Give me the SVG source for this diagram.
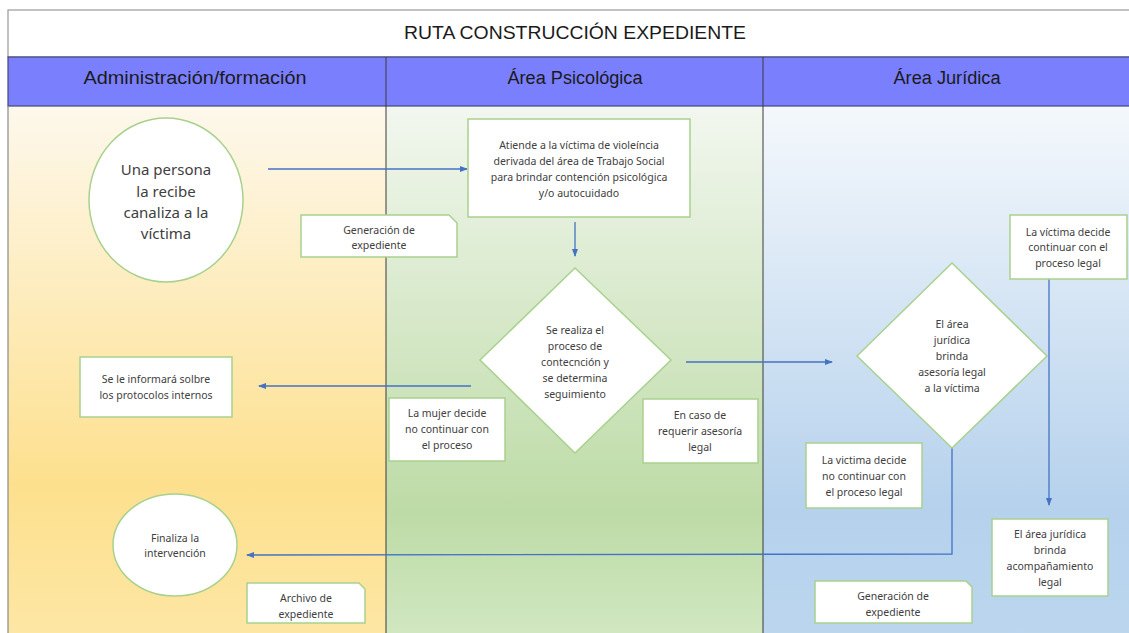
<svg xmlns="http://www.w3.org/2000/svg" width="1129" height="633" viewBox="0 0 1129 633">
<defs>
<linearGradient id="gA" x1="0" y1="0" x2="0" y2="1">
<stop offset="0" stop-color="#fdf8ec"/><stop offset="0.7" stop-color="#fde08e"/><stop offset="1" stop-color="#fde7a6"/>
</linearGradient>
<linearGradient id="gP" x1="0" y1="0" x2="0" y2="1">
<stop offset="0" stop-color="#f2f7ef"/><stop offset="0.75" stop-color="#bddba6"/><stop offset="1" stop-color="#d2e8c3"/>
</linearGradient>
<linearGradient id="gJ" x1="0" y1="0" x2="0" y2="1">
<stop offset="0" stop-color="#f4f8fc"/><stop offset="0.75" stop-color="#b5d1ec"/><stop offset="1" stop-color="#bcd6ee"/>
</linearGradient>
<marker id="ah" markerWidth="8" markerHeight="8" refX="7" refY="4" orient="auto" markerUnits="userSpaceOnUse">
<path d="M0,1 L8,4 L0,7 Z" fill="#4472c4"/>
</marker>
<style>
.box{fill:#fff;stroke:#a9d18e;stroke-width:1.5}
.t{font-family:"Noto Sans","Liberation Sans",sans-serif;font-size:10.5px;fill:#404040;text-anchor:middle}
.tb{font-family:"Noto Sans","Liberation Sans",sans-serif;font-size:15px;fill:#404040;text-anchor:middle}
.hd{font-family:"Liberation Sans",sans-serif;font-size:18px;fill:#1a1a1a;text-anchor:middle}
.c{fill:none;stroke:#4472c4;stroke-width:1.3}
</style>
</defs>
<g id="frame">
<rect x="8" y="106" width="378" height="540" fill="url(#gA)"/>
<rect x="386" y="106" width="377" height="540" fill="url(#gP)"/>
<rect x="763" y="106" width="380" height="540" fill="url(#gJ)"/>
<rect x="8" y="10" width="1130" height="47" fill="#fff" stroke="#9a9a9a" stroke-width="1.2"/>
<rect x="8" y="57" width="1130" height="49" fill="#7a7ffd" stroke="#44477a" stroke-width="1.2"/>
<line x1="8" y1="106" x2="8" y2="640" stroke="#8a8a8a" stroke-width="1.2"/>
<line x1="386" y1="57" x2="386" y2="640" stroke="#3a3a3a" stroke-width="1"/>
<line x1="763" y1="57" x2="763" y2="640" stroke="#3a3a3a" stroke-width="1"/>
<text class="hd" x="575" y="39" textLength="342" lengthAdjust="spacingAndGlyphs">RUTA CONSTRUCCIÓN EXPEDIENTE</text>
<text class="hd" x="195" y="84" textLength="223" lengthAdjust="spacingAndGlyphs">Administración/formación</text>
<text class="hd" x="575" y="84" textLength="135" lengthAdjust="spacingAndGlyphs">Área Psicológica</text>
<text class="hd" x="947" y="84" textLength="107" lengthAdjust="spacingAndGlyphs">Área Jurídica</text>
</g>
<g id="connectors">
<line class="c" x1="268" y1="169" x2="467" y2="169" marker-end="url(#ah)"/>
<line class="c" x1="575" y1="222" x2="575" y2="256" marker-end="url(#ah)"/>
<line class="c" x1="471" y1="386" x2="259" y2="386" marker-end="url(#ah)"/>
<line class="c" x1="686" y1="362" x2="832" y2="362" marker-end="url(#ah)"/>
<line class="c" x1="1049" y1="279" x2="1049" y2="505" marker-end="url(#ah)"/>
<polyline class="c" points="952,448 952,554 247,555" marker-end="url(#ah)"/>
</g>
<g id="n1">
<ellipse class="box" cx="166" cy="200" rx="77" ry="82"/>
<text class="tb"><tspan x="166" y="175">Una persona</tspan><tspan x="166" y="197">la recibe</tspan><tspan x="166" y="218">canaliza a la</tspan><tspan x="166" y="239">víctima</tspan></text>
</g>
<g id="n2">
<rect class="box" x="468" y="119" width="222" height="98"/>
<text class="t"><tspan x="579" y="149">Atiende a la víctima de violeíncia</tspan><tspan x="579" y="165">derivada del área de Trabajo Social</tspan><tspan x="579" y="181">para brindar contención psicológica</tspan><tspan x="579" y="197">y/o autocuidado</tspan></text>
</g>
<g id="n3">
<path class="box" d="M301,215 H449 L457,223 V257 H301 Z"/>
<text class="t"><tspan x="379" y="234">Generación de</tspan><tspan x="379" y="249">expediente</tspan></text>
</g>
<g id="n4">
<path class="box" d="M575,268 L671,360 L575,453 L480,360 Z"/>
<text class="t"><tspan x="575" y="334">Se realiza el</tspan><tspan x="575" y="350">proceso de</tspan><tspan x="575" y="366">contecnción y</tspan><tspan x="575" y="382">se determina</tspan><tspan x="575" y="398">seguimiento</tspan></text>
</g>
<g id="n5">
<rect class="box" x="80" y="357" width="152" height="60"/>
<text class="t"><tspan x="156" y="383">Se le informará solbre</tspan><tspan x="156" y="399">los protocolos internos</tspan></text>
</g>
<g id="n6">
<rect class="box" x="389" y="398" width="116" height="63"/>
<text class="t"><tspan x="447" y="417">La mujer decide</tspan><tspan x="447" y="433">no continuar con</tspan><tspan x="447" y="449">el proceso</tspan></text>
</g>
<g id="n7">
<rect class="box" x="643" y="399" width="115" height="64"/>
<text class="t"><tspan x="700" y="419">En caso de</tspan><tspan x="700" y="435">requerir asesoría</tspan><tspan x="700" y="451">legal</tspan></text>
</g>
<g id="n8">
<path class="box" d="M952,263 L1047,356 L952,448 L857,356 Z"/>
<text class="t"><tspan x="952" y="328">El área</tspan><tspan x="952" y="344">jurídica</tspan><tspan x="952" y="360">brinda</tspan><tspan x="952" y="376">asesoría legal</tspan><tspan x="952" y="392">a la víctima</tspan></text>
</g>
<g id="n9">
<rect class="box" x="1010" y="215" width="117" height="64"/>
<text class="t"><tspan x="1068" y="236">La víctima decide</tspan><tspan x="1068" y="251">continuar con el</tspan><tspan x="1068" y="267">proceso legal</tspan></text>
</g>
<g id="n10">
<rect class="box" x="806" y="443" width="116" height="65"/>
<text class="t"><tspan x="864" y="464">La victima decide</tspan><tspan x="864" y="480">no continuar con</tspan><tspan x="864" y="496">el proceso legal</tspan></text>
</g>
<g id="n11">
<rect class="box" x="992" y="519" width="116" height="77"/>
<text class="t"><tspan x="1050" y="538">El área jurídica</tspan><tspan x="1050" y="554">brinda</tspan><tspan x="1050" y="570">acompañamiento</tspan><tspan x="1050" y="586">legal</tspan></text>
</g>
<g id="n12">
<ellipse class="box" cx="175" cy="545" rx="62" ry="51"/>
<text class="t"><tspan x="175" y="542">Finaliza la</tspan><tspan x="175" y="557">intervención</tspan></text>
</g>
<g id="n13">
<path class="box" d="M247,583 H359 L365,589 V623 H247 Z"/>
<text class="t"><tspan x="306" y="602">Archivo  de</tspan><tspan x="306" y="618">expediente</tspan></text>
</g>
<g id="n14">
<path class="box" d="M815,581 H966 L972,587 V623 H815 Z"/>
<text class="t"><tspan x="893" y="600">Generación de</tspan><tspan x="893" y="616">expediente</tspan></text>
</g>
</svg>
